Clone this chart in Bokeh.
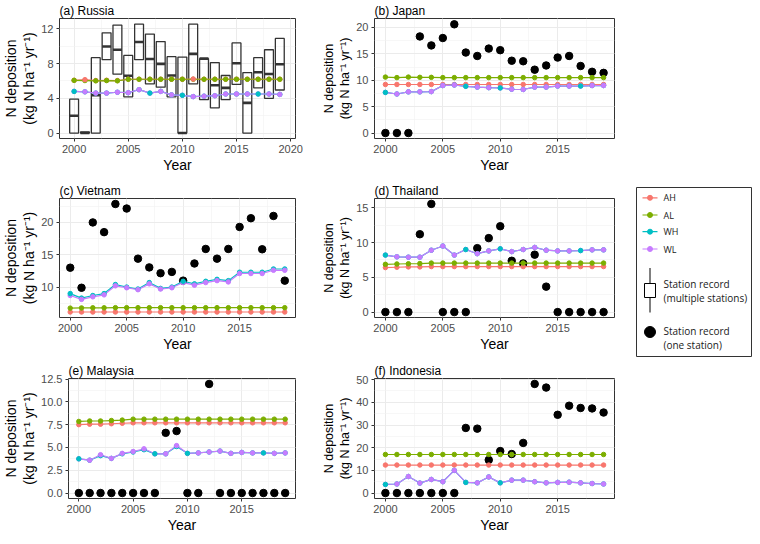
from bokeh.plotting import figure
from bokeh.layouts import row, column
from bokeh.models import Range1d, SingleIntervalTicker, NumeralTickFormatter, Title
from bokeh.core.properties import value
from bokeh.embed import file_html
from bokeh.resources import INLINE

YEARS = list(range(2000, 2020))
SERIES = ["AH", "AL", "WH", "WL"]
COLORS = {"AH": "#F8766D", "AL": "#7CAE00", "WH": "#00BFC4", "WL": "#C77CFF"}
FONT = "Liberation Sans"

# ---------------- (a) Russia ----------------
ru_AH = [6.08, 6.15, 6.05, 6.08, 6.05, 6.2, 6.2, 6.2, 6.2, 6.2, 6.2, 6.22, 6.2, 6.2, 6.2, 6.2, 6.2, 6.2, 6.2, 6.2]
ru_AL = [6.07, 6.05, 6.02, 6.05, 6.02, 6.2, 6.2, 6.2, 6.2, 6.2, 6.2, 6.2, 6.2, 6.2, 6.2, 6.2, 6.2, 6.2, 6.2, 6.2]
ru_WH = [4.8, 4.75, 4.6, 4.6, 4.7, 4.65, 5.0, 4.6, 4.8, 4.4, 4.35, 4.2, 4.25, 4.3, 4.5, 4.5, 4.5, 4.5, 4.5, 4.45]
ru_WL = [4.8, 4.75, 4.6, 4.6, 4.7, 4.65, 5.0, 4.6, 4.8, 4.4, 4.35, 4.2, 4.25, 4.3, 4.5, 4.5, 4.5, 4.5, 4.5, 4.45]
ru_box_low = [0, 0, 0, 8.45, 6.78, 4.17, 8.45, 5.66, 5.29, 4.17, 0, 5.66, 3.84, 2.9, 3.84, 5.6, 0, 5.2, 4.0, 4.96]
ru_box_med = [2.0, 0.0, 4.36, 9.98, 9.6, 6.6, 10.5, 8.53, 7.97, 6.63, 0.0, 9.12, 8.57, 5.5, 5.2, 8.05, 3.48, 7.0, 6.8, 7.93]
ru_box_high = [3.9, 0.12, 8.68, 11.55, 12.44, 8.94, 12.55, 11.4, 10.54, 8.8, 8.75, 12.55, 8.57, 8.12, 6.63, 10.39, 6.97, 8.68, 9.6, 10.9]
ru_top = {"AH": [2001, 2011], "WH": [2000, 2007, 2010, 2017]}

# ---------------- (b) Japan ----------------
jp_dots = [0, 0, 0, 18.3, 16.6, 18.0, 20.6, 15.25, 14.6, 16.0, 15.7, 13.7, 13.6, 12.0, 12.8, 14.3, 14.6, 12.7, 11.6, 11.4]
jp_AH = [9.2] * 20
jp_AL = [10.6, 10.5, 10.6, 10.55, 10.55, 10.5, 10.5, 10.5, 10.5, 10.5, 10.5, 10.5, 10.5, 10.5, 10.5, 10.5, 10.5, 10.5, 10.5, 10.5]
jp_WH = [7.7, 7.4, 7.8, 7.8, 7.85, 9.0, 9.1, 8.85, 8.7, 8.6, 8.55, 8.3, 8.25, 8.7, 8.7, 8.9, 8.9, 8.9, 9.0, 9.0]
jp_WL = [7.7, 7.4, 7.8, 7.8, 7.85, 9.0, 9.1, 8.85, 8.7, 8.6, 8.55, 8.3, 8.25, 8.7, 8.7, 8.9, 8.9, 8.9, 9.0, 9.0]
jp_top = {"WH": [2000, 2007, 2010, 2017]}

# ---------------- (c) Vietnam ----------------
vn_dots = [13.0, 9.9, 20.0, 18.5, 22.85, 22.15, 14.4, 13.05, 12.15, 12.35, 11.0, 13.65, 15.9, 14.4, 15.9, 19.3, 20.65, 15.85, 21.0, 11.0]
vn_AH = [6.15] * 20
vn_AL = [6.75, 6.78, 6.8, 6.8, 6.82, 6.82, 6.82, 6.82, 6.82, 6.82, 6.82, 6.82, 6.82, 6.82, 6.82, 6.82, 6.82, 6.82, 6.82, 6.82]
vn_WH = [9.0, 8.3, 8.7, 9.0, 10.4, 10.0, 9.7, 10.7, 9.8, 10.0, 10.9, 10.5, 10.9, 11.2, 11.0, 12.3, 12.3, 12.3, 12.8, 12.8]
vn_WL = [8.7, 8.1, 8.5, 8.8, 10.2, 9.9, 9.6, 10.5, 9.7, 9.9, 10.7, 10.3, 10.7, 11.0, 10.8, 12.1, 12.1, 12.1, 12.6, 12.6]
vn_top = {"WH": [2000, 2010]}

# ---------------- (d) Thailand ----------------
th_dots = [0, 0, 0, 11.2, 15.56, 0, 0, 0, 9.2, 10.64, 12.35, 7.38, 7.0, 8.26, 3.66, 0, 0, 0, 0, 0]
th_AH = [6.4, 6.45, 6.5, 6.5, 6.55, 6.55, 6.55, 6.55, 6.55, 6.55, 6.55, 6.55, 6.55, 6.55, 6.55, 6.55, 6.55, 6.55, 6.55, 6.55]
th_AL = [6.87, 6.92, 6.95, 6.98, 7.05, 7.05, 7.05, 7.05, 7.05, 7.05, 7.05, 7.05, 7.05, 7.05, 7.05, 7.05, 7.05, 7.05, 7.05, 7.05]
th_WH = [8.2, 7.95, 7.9, 7.9, 8.9, 9.5, 8.2, 9.0, 8.4, 8.8, 9.1, 8.7, 9.0, 9.3, 8.9, 8.8, 8.8, 8.85, 8.95, 8.95]
th_WL = [8.2, 7.95, 7.9, 7.9, 8.9, 9.5, 8.2, 9.0, 8.4, 8.8, 9.1, 8.7, 9.0, 9.3, 8.9, 8.8, 8.8, 8.85, 8.95, 8.95]
th_top = {"WH": [2000, 2007, 2010, 2017]}

# ---------------- (e) Malaysia ----------------
my_dots = [0, 0, 0, 0, 0, 0, 0, 0, 6.6, 6.8, 0, 0, 11.96, 0, 0, 0, 0, 0, 0, 0]
my_AH = [7.5, 7.55, 7.55, 7.6, 7.65, 7.7, 7.7, 7.7, 7.7, 7.7, 7.7, 7.7, 7.7, 7.7, 7.7, 7.7, 7.7, 7.7, 7.7, 7.7]
my_AL = [7.85, 7.9, 7.9, 7.95, 8.0, 8.1, 8.1, 8.1, 8.1, 8.1, 8.1, 8.1, 8.1, 8.1, 8.1, 8.1, 8.1, 8.1, 8.1, 8.1]
my_WH = [3.75, 3.6, 4.1, 3.8, 4.3, 4.5, 4.75, 4.3, 4.3, 5.1, 4.35, 4.4, 4.5, 4.6, 4.35, 4.45, 4.4, 4.4, 4.35, 4.4]
my_WL = [3.75, 3.6, 4.2, 3.8, 4.35, 4.55, 4.85, 4.3, 4.3, 5.2, 4.35, 4.4, 4.5, 4.6, 4.35, 4.45, 4.4, 4.4, 4.35, 4.4]
my_top = {"WH": [2000, 2007, 2010, 2017]}

# ---------------- (f) Indonesia ----------------
id_dots = [0, 0, 0, 0, 0, 0, 0, 28.7, 28.4, 14.6, 18.5, 17.2, 22.1, 48.1, 46.5, 34.5, 38.5, 37.5, 37.3, 35.5]
id_AH = [12.35] * 20
id_AL = [17.0] * 20
id_WH = [3.8, 4.0, 7.3, 4.4, 6.0, 5.0, 10.0, 4.7, 4.5, 7.1, 4.5, 5.7, 5.7, 5.0, 4.5, 4.7, 4.8, 4.5, 4.2, 4.0]
id_WL = [3.8, 4.0, 7.3, 4.4, 6.0, 5.0, 10.0, 4.7, 4.5, 7.1, 4.5, 5.7, 5.7, 5.0, 4.5, 4.7, 4.8, 4.5, 4.2, 4.0]
id_top = {"WH": [2000, 2007, 2010]}


def style(p, ylab_size):
    p.title.text_font = FONT
    p.title.text_font_size = "12px"
    p.title.text_font_style = "normal"
    p.title.text_color = "black"
    p.title.standoff = 2
    p.outline_line_color = "#333333"
    p.outline_line_width = 1
    for ax in (p.xaxis[0], p.yaxis[0]):
        ax.axis_line_color = None
        ax.major_tick_line_color = "#333333"
        ax.major_tick_in = 0
        ax.major_tick_out = 3
        ax.minor_tick_line_color = None
        ax.major_label_text_font = FONT
        ax.major_label_text_font_size = "11px"
        ax.major_label_text_color = "#4D4D4D"
        ax.major_label_standoff = 2
        ax.axis_label_text_font = FONT
        ax.axis_label_text_font_style = "normal"
        ax.axis_label_text_color = "black"
        ax.axis_label_standoff = 1
    p.xaxis.axis_label = "Year"
    p.xaxis.axis_label_text_font_size = "14px"
    p.yaxis.axis_label = "(kg N ha\u207b\u00b9 yr\u207b\u00b9)"
    p.yaxis.axis_label_text_font_size = ylab_size
    p.yaxis.axis_label_standoff = 1
    p.add_layout(Title(text="N deposition", align="center", text_font=FONT,
                       text_font_size=ylab_size, text_font_style="normal",
                       text_color="black", standoff=0, offset=0), "left")
    for g in (p.xgrid[0], p.ygrid[0]):
        g.grid_line_color = "#EBEBEB"
        g.grid_line_width = 1
        g.minor_grid_line_color = "#F2F2F2"
        g.minor_grid_line_width = 0.6


def make_panel(title, vals, top, xr, yr, yint, width, height, bt, bb, bl, br,
               ylab_size, dots=None, boxes=None, yfmt=None):
    p = figure(width=width, height=height, x_range=Range1d(*xr), y_range=Range1d(*yr),
               output_backend="svg", toolbar_location=None, title=title,
               min_border_left=bl, min_border_right=br, min_border_top=bt,
               min_border_bottom=bb)
    p.xaxis.ticker = SingleIntervalTicker(interval=5, num_minor_ticks=2)
    p.yaxis.ticker = SingleIntervalTicker(interval=yint, num_minor_ticks=2)
    if yfmt:
        p.yaxis.formatter = NumeralTickFormatter(format=yfmt)
    style(p, ylab_size)

    if boxes is not None:
        lo, med, hi = boxes
        hw = 0.41
        p.quad(left=[y - hw for y in YEARS], right=[y + hw for y in YEARS],
               bottom=lo, top=hi, fill_color=None, line_color="#333333", line_width=1.3)
        p.segment(x0=[y - hw for y in YEARS], x1=[y + hw for y in YEARS],
                  y0=med, y1=med, line_color="#333333", line_width=2.6)
    if dots is not None:
        p.scatter(YEARS, dots, size=7.5, color="black")

    for s in SERIES:
        p.line(YEARS, vals[s], line_color=COLORS[s], line_width=1.2)
    for s in SERIES:
        tops = top.get(s, [])
        xs = [y for y in YEARS if y not in tops]
        ys = [v for y, v in zip(YEARS, vals[s]) if y not in tops]
        p.scatter(xs, ys, size=4.5, color=COLORS[s])
    for s in SERIES:
        tops = top.get(s, [])
        if tops:
            xs = [y for y in YEARS if y in tops]
            ys = [v for y, v in zip(YEARS, vals[s]) if y in tops]
            p.scatter(xs, ys, size=4.5, color=COLORS[s])
    return p


LW, RW, GW = 303, 321, 128
XR_STD = (1999.05, 2019.95)
# row geometry: (height, top border, bottom border)
R1, R2, R3 = (176, 18, 38), (178, 22, 36), (182, 24, 38)

pa = make_panel("(a) Russia", dict(AH=ru_AH, AL=ru_AL, WH=ru_WH, WL=ru_WL), ru_top,
                (1998.65, 2020.45), (-0.63, 13.2), 4, LW, *R1, 52, 8, "14px",
                boxes=(ru_box_low, ru_box_med, ru_box_high))
pb = make_panel("(b) Japan", dict(AH=jp_AH, AL=jp_AL, WH=jp_WH, WL=jp_WL), jp_top,
                XR_STD, (-1.035, 21.7), 5, RW, *R1, 71, 10, "12.5px", dots=jp_dots)
pc = make_panel("(c) Vietnam", dict(AH=vn_AH, AL=vn_AL, WH=vn_WH, WL=vn_WL), vn_top,
                XR_STD, (5.3, 23.7), 5, LW, *R2, 52, 8, "14px", dots=vn_dots)
pd = make_panel("(d) Thailand", dict(AH=th_AH, AL=th_AL, WH=th_WH, WL=th_WL), th_top,
                XR_STD, (-0.78, 16.34), 5, RW, *R2, 71, 10, "12.5px", dots=th_dots)
pe = make_panel("(e) Malaysia", dict(AH=my_AH, AL=my_AL, WH=my_WH, WL=my_WL), my_top,
                XR_STD, (-0.6, 12.56), 2.5, LW, *R3, 61, 8, "14px", dots=my_dots, yfmt="0.0")
pf = make_panel("(f) Indonesia", dict(AH=id_AH, AL=id_AL, WH=id_WH, WL=id_WL), id_top,
                XR_STD, (-2.4, 50.5), 10, RW, *R3, 71, 10, "12.5px", dots=id_dots)

# ---------------- legend ----------------
leg_labels = ["AH", "AL", "WH", "WL"]
LH = R1[0] + R2[0] + R3[0]
leg = figure(width=GW, height=LH, x_range=Range1d(0, GW), y_range=Range1d(LH, 0),
             output_backend="svg", toolbar_location=None, x_axis_type=None,
             y_axis_type=None, min_border=0)
leg.grid.visible = False
leg.outline_line_color = None
leg.quad(left=[12], right=[127], top=[187], bottom=[356], fill_color="white",
         line_color="#333333", line_width=1)
ly = [197.3, 214.5, 231.2, 248.5]
leg.segment(x0=[18] * 4, x1=[33] * 4, y0=ly, y1=ly,
            line_color=[COLORS[s] for s in leg_labels], line_width=1.2)
leg.scatter([25.5] * 4, ly, size=5, color=[COLORS[s] for s in leg_labels])
leg.text([39] * 4, ly, text=leg_labels, text_font=value("Open Sans"),
         text_font_size="9px", text_baseline="middle", text_color="#1a1a1a")
leg.segment(x0=[25.5], x1=[25.5], y0=[267.5], y1=[312], line_color="black", line_width=1)
leg.quad(left=[20], right=[31], top=[283], bottom=[297], fill_color="white",
         line_color="black", line_width=1)
leg.scatter([25.5], [331.5], size=11, color="black")
leg.text([39, 39, 39, 39], [283.5, 297.5, 330.3, 344.3],
         text=["Station record", "(multiple stations)", "Station record", "(one station)"],
         text_font=value("Open Sans"), text_font_size="10px", text_baseline="middle",
         text_color="#1a1a1a")

left_col = column(row(pa), row(pc), row(pe))
right_col = column(row(pb), row(pd), row(pf))
layout = row(left_col, right_col, leg)
open("out.html", "w").write(file_html(layout, INLINE))
